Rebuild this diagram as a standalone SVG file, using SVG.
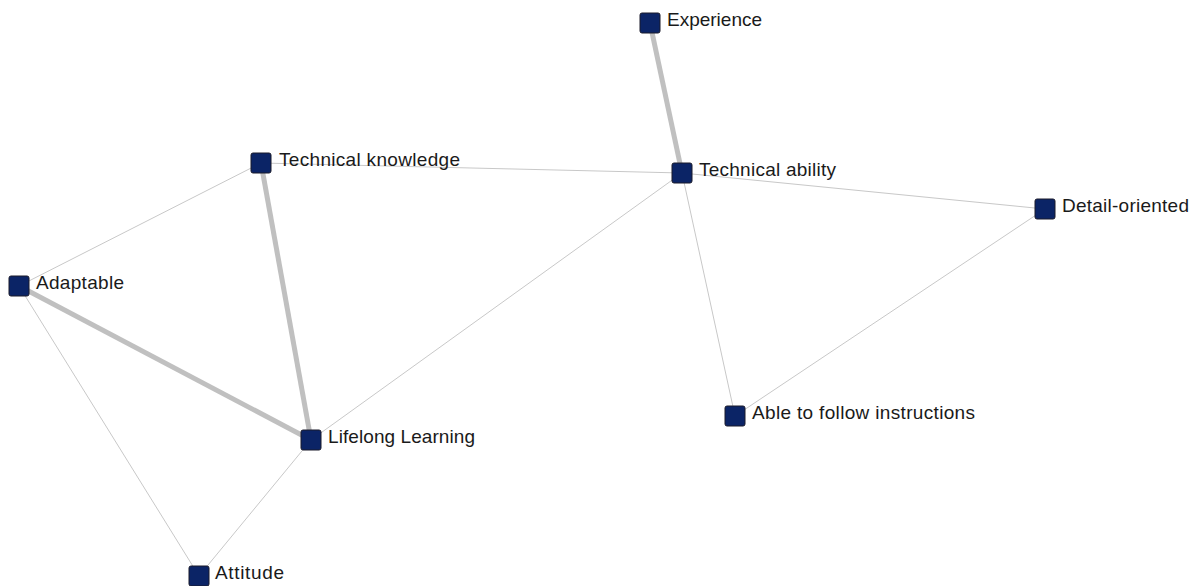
<svg xmlns="http://www.w3.org/2000/svg" width="1197" height="586" viewBox="0 0 1197 586">
<style>
.n{fill:#0b2466;stroke:#1a1a2a;stroke-width:1}
.t{font-family:"Liberation Sans",Arial,sans-serif;font-size:19px;fill:#1a1a1a}
.thin{stroke:#c8c8c8;stroke-width:1;fill:none}
.thick{stroke:#c0c0c0;stroke-width:5;fill:none}
</style>
<rect width="1197" height="586" fill="#ffffff"/>
<g id="edges">
<line class="thick" x1="650" y1="23" x2="682" y2="173"/>
<line class="thin" x1="261" y1="163" x2="682" y2="173"/>
<line class="thick" x1="261" y1="163" x2="311" y2="440"/>
<line class="thin" x1="261" y1="163" x2="19" y2="286"/>
<line class="thick" x1="19" y1="286" x2="311" y2="440"/>
<line class="thin" x1="19" y1="286" x2="199" y2="576"/>
<line class="thin" x1="311" y1="440" x2="199" y2="576"/>
<line class="thin" x1="311" y1="440" x2="682" y2="173"/>
<line class="thin" x1="682" y1="173" x2="1045" y2="209"/>
<line class="thin" x1="682" y1="173" x2="735" y2="416"/>
<line class="thin" x1="1045" y1="209" x2="735" y2="416"/>
</g>
<g id="experience"><rect class="n" x="640" y="13" width="20" height="20" rx="2"/><text class="t" x="667" y="26" textLength="95">Experience</text></g>
<g id="technical-knowledge"><rect class="n" x="251" y="153" width="20" height="20" rx="2"/><text class="t" x="279" y="166" textLength="181">Technical knowledge</text></g>
<g id="technical-ability"><rect class="n" x="672" y="163" width="20" height="20" rx="2"/><text class="t" x="699" y="176" textLength="137">Technical ability</text></g>
<g id="adaptable"><rect class="n" x="9" y="276" width="20" height="20" rx="2"/><text class="t" x="36" y="289" textLength="88">Adaptable</text></g>
<g id="lifelong-learning"><rect class="n" x="301" y="430" width="20" height="20" rx="2"/><text class="t" x="328" y="443" textLength="147">Lifelong Learning</text></g>
<g id="attitude"><rect class="n" x="189" y="566" width="20" height="20" rx="2"/><text class="t" x="215" y="579" textLength="69">Attitude</text></g>
<g id="detail-oriented"><rect class="n" x="1035" y="199" width="20" height="20" rx="2"/><text class="t" x="1062" y="212" textLength="127">Detail-oriented</text></g>
<g id="able-to-follow-instructions"><rect class="n" x="725" y="406" width="20" height="20" rx="2"/><text class="t" x="752" y="419" textLength="223">Able to follow instructions</text></g>
</svg>
